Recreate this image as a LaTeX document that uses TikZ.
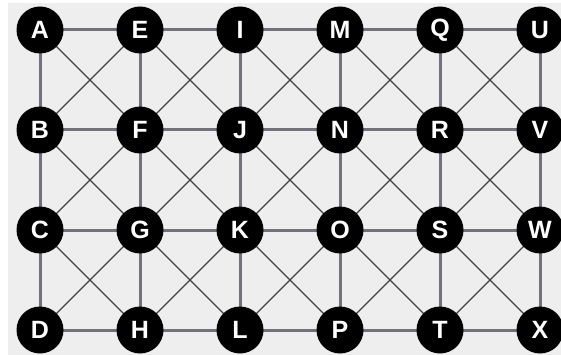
\documentclass[tikz,border=0pt]{standalone}
\usepackage{fontspec}
\setmainfont{Liberation Sans}
\definecolor{bgc}{HTML}{EEEEEE}
\definecolor{hv}{HTML}{72727C}
\definecolor{dg}{HTML}{404040}
\tikzset{
  vtx/.style={circle, fill=black, minimum size=47pt, inner sep=0pt, text=white, font=\fontsize{25}{25}\selectfont\bfseries},
  grid/.style={draw=hv, line width=3pt},
  diag/.style={draw=dg, line width=1.3pt}
}
\begin{document}
\begin{tikzpicture}[x=1pt,y=-1pt]
\useasboundingbox (0,0) rectangle (561,355);
\fill[bgc] (8,3) rectangle (561,355);
\foreach \c [count=\i from 0] in {A,B,C,D,E,F,G,H,I,J,K,L,M,N,O,P,Q,R,S,T,U,V,W,X} {
  \pgfmathtruncatemacro{\col}{int(\i/4)}
  \pgfmathtruncatemacro{\row}{mod(\i,4)}
  \coordinate (p\c) at ({40+100*\col},{30+100*\row});
}
% diagonals
\foreach \a/\b/\c/\d in {A/E/B/F,E/I/F/J,I/M/J/N,M/Q/N/R,Q/U/R/V,
                         B/F/C/G,F/J/G/K,J/N/K/O,N/R/O/S,R/V/S/W,
                         C/G/D/H,G/K/H/L,K/O/L/P,O/S/P/T,S/W/T/X} {
  \draw[diag] (p\a) -- (p\d);
  \draw[diag] (p\b) -- (p\c);
}
% horizontals
\draw[grid] (pA) -- (pE) -- (pI) -- (pM) -- (pQ) -- (pU);
\draw[grid] (pB) -- (pF) -- (pJ) -- (pN) -- (pR) -- (pV);
\draw[grid] (pC) -- (pG) -- (pK) -- (pO) -- (pS) -- (pW);
\draw[grid] (pD) -- (pH) -- (pL) -- (pP) -- (pT) -- (pX);
% verticals
\draw[grid] (pA) -- (pB) -- (pC) -- (pD);
\draw[grid] (pE) -- (pF) -- (pG) -- (pH);
\draw[grid] (pI) -- (pJ) -- (pK) -- (pL);
\draw[grid] (pM) -- (pN) -- (pO) -- (pP);
\draw[grid] (pQ) -- (pR) -- (pS) -- (pT);
\draw[grid] (pU) -- (pV) -- (pW) -- (pX);
% nodes
\foreach \c in {A,B,C,D,E,F,G,H,I,J,K,L,M,N,O,P,Q,R,S,T,U,V,W,X} {
  \node[vtx] (\c) at (p\c) {\c};
}
\end{tikzpicture}
\end{document}
